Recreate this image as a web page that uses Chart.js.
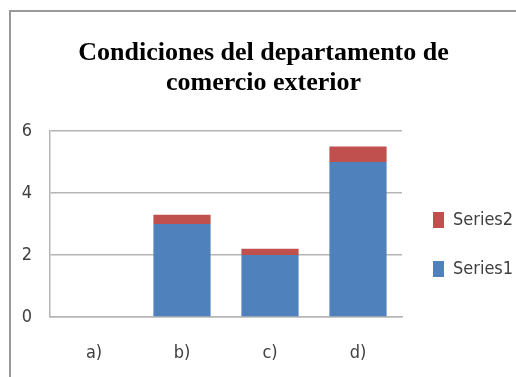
<!DOCTYPE html>
<html>
<head>
<meta charset="utf-8">
<script src="https://cdn.jsdelivr.net/npm/chart.js@4/dist/chart.umd.min.js"></script>
<style>
  html, body { margin: 0; padding: 0; background: #fff; }
  #frame {
    position: absolute; left: 9px; top: 10px;
    width: 505px; height: 365px;
    border-top: 2px solid #999; border-left: 2px solid #999;
  }
  #chart { display: block; }
</style>
</head>
<body>
<div id="frame"><canvas id="chart" width="505" height="365"></canvas></div>
<script>
// Categories, series values and axis ticks
const categories = ['a)', 'b)', 'c)', 'd)'];
const series1 = [0, 3, 2, 5];
const series2 = [0, 0.3, 0.2, 0.5];
const yTicks = [0, 2, 4, 6];

const labelFont = { family: '"Liberation Sans Narrow", "DejaVu Sans Condensed", sans-serif', size: 18 };
const gridColor = '#b5b5b5';

new Chart(document.getElementById('chart'), {
  type: 'bar',
  data: {
    labels: categories,
    datasets: [
      { label: 'Series1', data: series1, backgroundColor: '#4f81bd', barPercentage: 0.65, categoryPercentage: 1 },
      { label: 'Series2', data: series2, backgroundColor: '#c0504d', barPercentage: 0.65, categoryPercentage: 1 }
    ]
  },
  options: {
    responsive: false,
    animation: false,
    layout: { padding: 0 },
    plugins: {
      title: {
        display: true,
        text: ['Condiciones del departamento de', 'comercio exterior'],
        color: '#000',
        font: { family: '"Liberation Serif", serif', size: 26, weight: 'bold', lineHeight: '30px' },
        padding: { top: 26, bottom: 33 }
      },
      legend: {
        position: 'right',
        reverse: true,
        maxWidth: 114,
        title: { display: true, text: ' ', font: { size: 10, lineHeight: '10px' }, padding: { top: 90, bottom: 0 } },
        labels: {
          color: '#404040',
          font: labelFont,
          boxWidth: 11,
          boxHeight: 16,
          padding: 31
        }
      },
      tooltip: { enabled: false }
    },
    scales: {
      x: {
        stacked: true,
        grid: { display: false, drawTicks: false },
        border: { display: true, color: gridColor, width: 1.5 },
        ticks: { color: '#404040', font: labelFont, padding: 26 },
        afterFit: (s) => { s.height = 60; }
      },
      y: {
        stacked: true,
        min: 0,
        max: 6,
        afterBuildTicks: (s) => { s.ticks = yTicks.map(v => ({ value: v })); },
        grid: { color: gridColor, lineWidth: 1.5, drawTicks: false },
        border: { display: true, color: gridColor, width: 1.5 },
        ticks: { color: '#404040', font: labelFont, padding: 18 },
        afterFit: (s) => { s.width = 39; }
      }
    }
  }
});
</script>
</body>
</html>
